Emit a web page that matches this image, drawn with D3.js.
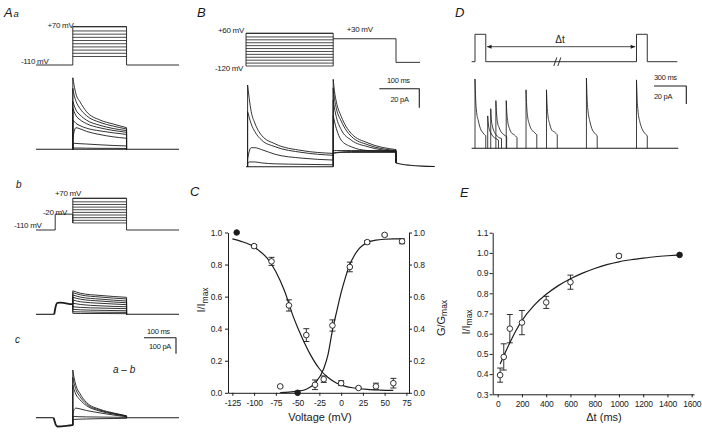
<!DOCTYPE html>
<html><head><meta charset="utf-8">
<script src="https://cdn.jsdelivr.net/npm/d3@7"></script>
<style>
body{margin:0;background:#fff}
svg{display:block}
text{font-family:"Liberation Sans",Arial,sans-serif;fill:#1a1a1a}
</style></head>
<body><svg width="702" height="435"></svg>
<script>
// ================= DATA =================
// ---- Panel A: protocols (mV) and times (ms) ----
const stepLevelsA = [-70,-55,-40,-25,-10,5,20,35,50,70];
const holdA = -110, prepulseAb = -20;
const A_PRE = 60, A_ON = 115, A_OFF = 283, A_END = 447;
// Aa currents (pA) at these times
const tAa = [115,119,125,137.5,158,200,241,283];
const curAa = [
  [447,400,345,297,235,183,158,135],
  [381,340,300,255,210,168,145,127],
  [300,275,245,215,182,150,130,117],
  [256,236,210,185,160,134,118,106],
  [183,175,162,148,132,115,103,93],
  [60,110,135,128,112,92,78,69],
  [30,37,37,35,33,28,24,21],
  [6,8,8,8,7,6,6,5]
];
// Ab: prepulse current (common) and step currents
const preAb = [[57,0],[60,35],[63,60],[67,72],[75,73],[90,70],[111,64],[115,64]];
const tAb = [115,140,200,283];
const curAb = [
  [147,131,118,106],[135,121,108,96],[121,107,95,83],[106,94,83,72],
  [89,78,69,60],[69,61,53,47],[47,43,39,35],[31,28,25,22],[16,15,13,12],[6,5,5,4]
];
// Ac: a - b difference
const dipAc = [[55,0],[58,-20],[62,-45],[67,-55],[80,-54],[100,-50],[113,-47],[115,-47]];
const tAc = [115,119,125,137.5,158,200,241,283];
const curAc = [
  [298,250,200,150,95,52,30,12],
  [253,215,175,132,85,47,27,10],
  [204,175,145,112,75,41,23,9],
  [20,50,60,55,45,30,17,6],
  [8,8,7,6,5,4,3,2],
  [-12,-11,-10,-9,-8,-6,-5,-4]
];

// ---- Panel B ----
const stepLevelsB = [-120,-104,-88,-72,-56,-40,-24,-8,8,24,40,60];
const B_PRE_END = 218, B_TEST = 30, B_TEST_END = 375, B_POST = -100, B_V_END = 435, B_END = 472;
const tBpre = [4,8,13,22,39,73,140,218];
const curBpre = [
  [86,72,58,46,33,24,17,14],
  [58,52,45,37,28,21,15,12],
  [8,16,20,20,18,13,9,7],
  [3,5,5,5,4,3,2.5,2],
  null, null, null
];
const tBtest = [218,221,226,238,263,305,375];
const curBtest = [
  [15,15,15,15.5,16,16,16],
  [14,14,14.5,15,15,15,15],
  [17,17,17,17,17,17,17],
  [54,48,40,28,21,17,16],
  [70,62,52,39,28,21,16],
  [83,72,61,48,32,23,17],
  [92,80,68,53,35,25,18]
];
const tailB = [[375,4],[378,3.6],[390,2.5],[410,1.5],[440,0.6],[472,0.2]];

// ---- Panel D ----
const D_START = -31, D_END = 1888, D_V_END = 1879;
const pulsesD = [0, 1500], pulseDur = 100, holdD = -110, testD = 30;
const onsetsD = [0,118,146,194,290,474,664,1035,1500];
const offsD = [0,6,15,30,50,75,100];
const curD = [
  [77,55,40,31,22,17,14],
  [36,27,21,17,13,11,9],
  [44,32,25,19,15,12,11],
  [53,39,29,23,18,15,13],
  [53,39,29,22,17,15,12],
  [65,47,35,27,21,18,15],
  [65,47,35,27,20,18,15],
  [78,56,41,31,22,17,14],
  [76,55,40,30,22,17,14]
];

// ---- Panel C ----
const inactV = [-120,-100,-80,-60,-40,-20,0,20,40,60];
const inactY = [1.0,0.915,0.82,0.545,0.36,0.085,0.06,0.03,0.04,0.06];
const inactE = [0,0.01,0.025,0.035,0.04,0.02,0.015,0.005,0.02,0.03];
const inactFilled = [true,false,false,false,false,false,false,false,false,false];
const actV = [-70,-50,-30,-10,10,30,50,70];
const actY = [0.04,0.0,0.05,0.42,0.785,0.94,0.985,0.945];
const actE = [0.006,0,0.03,0.035,0.03,0.01,0.006,0.015];
const actFilled = [false,true,false,false,false,false,false,false];
const inactFitV = [-125,-115,-105,-95,-85,-75,-65,-55,-45,-35,-25,-15,-5,5,15,30,45,60];
const inactFitY = [0.96,0.945,0.925,0.89,0.84,0.755,0.635,0.475,0.345,0.235,0.15,0.095,0.06,0.04,0.03,0.021,0.017,0.015];
const actFitV = [-70,-60,-50,-40,-30,-20,-15,-10,-5,0,5,10,15,20,25,30,40,50,60,72];
const actFitY = [0.002,0.004,0.01,0.022,0.06,0.15,0.24,0.39,0.51,0.625,0.72,0.80,0.855,0.895,0.92,0.937,0.952,0.958,0.96,0.96];
const cXTicks = [-125,-100,-75,-50,-25,0,25,50,75];
const cYTicks = [0,0.2,0.4,0.6,0.8,1.0];

// ---- Panel E ----
const recT = [20,50,100,200,400,600,1000,1500];
const recY = [0.395,0.485,0.625,0.655,0.755,0.855,0.985,0.99];
const recE = [0.035,0.065,0.07,0.06,0.03,0.035,0.008,0];
const recFilled = [false,false,false,false,false,false,false,true];
const recFitT = [20,50,100,150,200,300,400,500,600,700,800,900,1000,1100,1200,1300,1400,1500];
const recFitY = [0.45,0.49,0.555,0.615,0.665,0.74,0.795,0.838,0.872,0.9,0.923,0.942,0.956,0.966,0.974,0.981,0.986,0.99];
const eXTicks = [0,200,400,600,800,1000,1200,1400,1600];
const eYTicks = [0.3,0.4,0.5,0.6,0.7,0.8,0.9,1.0,1.1];

// ================= DRAWING =================
const ink = "#1c1c1c";
const svg = d3.select("svg");
const lineLin = (x,y) => d3.line().x(d=>x(d[0])).y(d=>y(d[1]));
function tracePath(x, y, pts, b0, b1) {
  const p = d3.line().x(d=>x(d[0])).y(d=>y(d[1])).curve(d3.curveMonotoneX)(pts);
  let s = p;
  if (b0 !== null && b0 !== undefined) s = "M" + x(pts[0][0]) + "," + y(b0) + "L" + p.slice(1);
  if (b1 !== null && b1 !== undefined) s += "L" + x(pts[pts.length-1][0]) + "," + y(b1);
  return s;
}
function path(g, d, w) {
  return g.append("path").attr("d", d).attr("fill","none").attr("stroke",ink)
    .attr("stroke-width", w||0.9).attr("stroke-linejoin","round");
}
function txt(x, y, s, size, opt) {
  opt = opt || {};
  const t = svg.append("text").attr("x",x).attr("y",y).attr("font-size",size).text(s);
  if (opt.italic) t.attr("font-style","italic");
  if (opt.anchor) t.attr("text-anchor",opt.anchor);
  if (opt.ls) t.attr("letter-spacing",opt.ls);
  return t;
}
const zip = (ts, vs) => ts.map((t,i)=>[t,vs[i]]);

// ---------- Panel A ----------
const gA = svg.append("g");
const xA = d3.scaleLinear().domain([0,100]).range([36,68]);
const vAa = d3.scaleLinear().domain([-110,70]).range([65,26.7]);
const vAb = d3.scaleLinear().domain([-110,70]).range([230,198.3]);
const iAa = d3.scaleLinear().domain([0,100]).range([149.3,133.3]);
const iAb = d3.scaleLinear().domain([0,100]).range([314.3,298.3]);
const iAc = d3.scaleLinear().domain([0,100]).range([417.7,401.7]);
const vmax = d3.max(stepLevelsA), vmin = d3.min(stepLevelsA);

// Aa voltage
path(gA, lineLin(xA,vAa)([[0,holdA],[A_ON,holdA],[A_ON,vmax],[A_OFF,vmax],[A_OFF,holdA],[A_END,holdA]]));
stepLevelsA.forEach(v => path(gA, lineLin(xA,vAa)([[A_ON,v],[A_OFF,v]]), 0.8));
// Aa currents
path(gA, lineLin(xA,iAa)([[0,0],[A_END,0]]), 1.1);
curAa.forEach(c => path(gA, tracePath(xA,iAa,zip(tAa,c),0,0)));

// Ab voltage
path(gA, lineLin(xA,vAb)([[0,holdA],[A_PRE,holdA],[A_PRE,prepulseAb],[A_ON,prepulseAb],[A_ON,vmin],[A_ON,vmax],[A_OFF,vmax],[A_OFF,holdA],[A_END,holdA]]));
stepLevelsA.forEach(v => path(gA, lineLin(xA,vAb)([[A_ON,v],[A_OFF,v]]), 0.8));
// Ab currents
path(gA, lineLin(xA,iAb)([[0,0],[57,0]]), 1.1);
path(gA, lineLin(xA,iAb)([[A_OFF,0],[A_END,0]]), 1.1);
path(gA, d3.line().x(d=>xA(d[0])).y(d=>iAb(d[1])).curve(d3.curveMonotoneX)(preAb), 1.8);
curAb.forEach(c => path(gA, tracePath(xA,iAb,zip(tAb,c),preAb[preAb.length-1][1],0)));

// Ac currents
path(gA, lineLin(xA,iAc)([[0,0],[55,0]]), 1.1);
path(gA, lineLin(xA,iAc)([[A_OFF,0],[A_END,0]]), 1.1);
path(gA, d3.line().x(d=>xA(d[0])).y(d=>iAc(d[1])).curve(d3.curveMonotoneX)(dipAc), 1.8);
curAc.forEach(c => path(gA, tracePath(xA,iAc,zip(tAc,c),dipAc[dipAc.length-1][1],0)));

// A scale bar (100 ms, 100 pA)
path(gA, `M${144},${337.7}H${144 + xA(100)-xA(0)}V${337.7 + iAa(0)-iAa(100)}`, 1.1);

// A labels
txt(4,17,"A",13,{italic:true}); txt(13.5,17,"a",9.5,{italic:true});
txt(47.5,27.5,"+70 mV",8,{ls:-0.3});
txt(48.5,63.5,"-110 mV",8,{anchor:"end",ls:-0.3});
txt(16,188,"b",10,{italic:true});
txt(55,195.5,"+70 mV",8,{ls:-0.3});
txt(43,215,"-20 mV",8,{ls:-0.3});
txt(14,227.5,"-110 mV",8,{ls:-0.3});
txt(147,333.5,"100 ms",7.5,{ls:-0.3});
txt(149,348.5,"100 pA",7.5,{ls:-0.3});
txt(15,343,"c",10,{italic:true});
txt(113,373,"a – b",10,{italic:true});

// ---------- Panel B ----------
const gB = svg.append("g");
const xB = d3.scaleLinear().domain([0,100]).range([246,286]);
const vB = d3.scaleLinear().domain([-120,60]).range([66,33.3]);
const iB = d3.scaleLinear().domain([0,20]).range([166.7,147.7]);
const bmin = d3.min(stepLevelsB), bmax = d3.max(stepLevelsB);
path(gB, lineLin(xB,vB)([[0,bmin],[0,bmax],[B_PRE_END,bmax],[B_PRE_END,bmin]]));
stepLevelsB.forEach(v => path(gB, lineLin(xB,vB)([[0,v],[B_PRE_END,v]]), 0.8));
path(gB, lineLin(xB,vB)([[B_PRE_END,B_TEST],[B_TEST_END,B_TEST],[B_TEST_END,B_POST],[B_V_END,B_POST]]));
// currents
path(gB, lineLin(xB,iB)([[0,0],[B_PRE_END,0]]), 1.1);
curBpre.forEach((c,k) => {
  let last = 0;
  if (c) { path(gB, tracePath(xB,iB,zip(tBpre,c),0,null)); last = c[c.length-1]; }
  path(gB, tracePath(xB,iB,zip(tBtest,curBtest[k]),last,tailB[0][1]));
});
path(gB, d3.line().x(d=>xB(d[0])).y(d=>iB(d[1])).curve(d3.curveMonotoneX)(tailB), 1.1);
// scale bar B
path(gB, `M379.3,88.8H${379.3 + xB(100)-xB(0)}V${88.8 + iB(0)-iB(20)}`, 1.1);
txt(197,17,"B",13,{italic:true});
txt(218,33,"+60 mV",8,{ls:-0.3});
txt(215,71,"-120 mV",8,{ls:-0.3});
txt(346.7,32,"+30 mV",8,{ls:-0.3});
txt(387,83,"100 ms",7.5,{ls:-0.3});
txt(390.5,101.5,"20 pA",7.5,{ls:-0.3});

// ---------- Panel D ----------
const gD = svg.append("g");
const xD = d3.scaleLinear().domain([0,300]).range([475,507.3]);
const vD = d3.scaleLinear().domain([-110,30]).range([61.7,34.3]);
const iD = d3.scaleLinear().domain([0,20]).range([148.3,130.3]);
const vpts = [[D_START,holdD]];
pulsesD.forEach(p => { vpts.push([p,holdD],[p,testD],[p+pulseDur,testD],[p+pulseDur,holdD]); });
vpts.push([D_V_END,holdD]);
path(gD, lineLin(xD,vD)(vpts));
// break marks
const brX = xD(760);
path(gD, `M${brX-3},66L${brX},57.5M${brX+1},66L${brX+4},57.5`, 0.9);
// Δt arrow
const ax0 = xD(pulsesD[0]+pulseDur+12), ax1 = xD(pulsesD[1]-12), ay = 46.7;
path(gD, `M${ax0},${ay}H${ax1}`, 0.8);
gD.append("path").attr("d",`M${ax0},${ay}l4.5,-2l0,4z M${ax1},${ay}l-4.5,-2l0,4z`).attr("fill",ink);
txt(560,42.5,"Δt",10,{anchor:"middle"});
// currents
path(gD, lineLin(xD,iD)([[D_START,0],[D_END,0]]), 1.1);
onsetsD.forEach((t0,k) => {
  path(gD, tracePath(xD,iD,offsD.map((o,j)=>[t0+o,curD[k][j]]),0,0), 0.85);
});
path(gD, `M654,86H${654 + xD(300)-xD(0)}V${86 + iD(0)-iD(20)}`, 1.1);
txt(455,17,"D",13,{italic:true});
txt(654,80,"300 ms",7.5,{ls:-0.3});
txt(654,99,"20 pA",7.5,{ls:-0.3});

// ---------- Panel C ----------
const gC = svg.append("g");
const xC = d3.scaleLinear().domain([-130,78]).range([228,409]);
const yC = d3.scaleLinear().domain([0,1]).range([392.8,232.5]);
function styleAxis(g){
  g.selectAll("path.domain").attr("stroke",ink).attr("stroke-width",1);
  g.selectAll(".tick line").attr("stroke",ink).attr("stroke-width",1);
  g.selectAll(".tick text").attr("fill","#1a1a1a").attr("font-size",8.5)
    .attr("font-family",'"Liberation Sans",Arial,sans-serif').attr("letter-spacing",-0.2);
}
gC.append("g").attr("transform","translate(0,392.8)")
  .call(d3.axisBottom(xC).tickValues(cXTicks).tickFormat(d=>String(d)).tickSize(3).tickSizeOuter(0).tickPadding(4.5)).call(styleAxis);
gC.append("g").attr("transform","translate(228,0)")
  .call(d3.axisLeft(yC).tickValues(cYTicks).tickFormat(d3.format(".1f")).tickSize(3).tickSizeOuter(0).tickPadding(3)).call(styleAxis);
gC.append("g").attr("transform","translate(409,0)")
  .call(d3.axisRight(yC).tickValues(cYTicks).tickFormat(d3.format(".1f")).tickSize(3).tickSizeOuter(0).tickPadding(1.5)).call(styleAxis);
path(gC, d3.line().x(d=>xC(d[0])).y(d=>yC(d[1])).curve(d3.curveMonotoneX)(zip(inactFitV,inactFitY)), 1.2);
path(gC, d3.line().x(d=>xC(d[0])).y(d=>yC(d[1])).curve(d3.curveMonotoneX)(zip(actFitV,actFitY)), 1.2);
function points(g, x, y, xs, ys, es, filled) {
  xs.forEach((v,i) => {
    const cx = x(v), cy = y(ys[i]);
    if (es[i] > 0) {
      const y0 = y(ys[i]-es[i]), y1 = y(ys[i]+es[i]);
      path(g, `M${cx},${y0}V${y1}M${cx-3},${y0}H${cx+3}M${cx-3},${y1}H${cx+3}`, 0.9);
    }
    g.append("circle").attr("cx",cx).attr("cy",cy).attr("r",2.8)
      .attr("fill", filled[i] ? ink : "#fff").attr("stroke",ink).attr("stroke-width",0.9);
  });
}
points(gC, xC, yC, inactV, inactY, inactE, inactFilled);
points(gC, xC, yC, actV, actY, actE, actFilled);
txt(190,195.5,"C",13,{italic:true});
txt(320,421,"Voltage (mV)",11,{anchor:"middle"});
const tl = svg.append("text").attr("transform","translate(205,300) rotate(-90)").attr("text-anchor","middle").attr("font-size",11);
tl.append("tspan").text("I/I"); tl.append("tspan").attr("font-size",8.5).attr("dy",2.5).text("max");
const tr = svg.append("text").attr("transform","translate(444.5,318) rotate(-90)").attr("text-anchor","middle").attr("font-size",11);
tr.append("tspan").text("G/G"); tr.append("tspan").attr("font-size",8.5).attr("dy",2.5).text("max");

// ---------- Panel E ----------
const gE = svg.append("g");
const xE = d3.scaleLinear().domain([0,1600]).range([497.7,691.7]);
const yE = d3.scaleLinear().domain([0.3,1.1]).range([394.3,232.7]);
const xE2 = xE.copy().domain([xE.invert(492.7), xE.invert(694)]).range([492.7,694]);
gE.append("g").attr("transform","translate(0,394.3)")
  .call(d3.axisBottom(xE2).tickValues(eXTicks).tickFormat(d=>String(d)).tickSize(3).tickSizeOuter(0).tickPadding(3.2)).call(styleAxis);
gE.append("g").attr("transform","translate(492.7,0)")
  .call(d3.axisLeft(yE).tickValues(eYTicks).tickFormat(d3.format(".1f")).tickSize(3).tickSizeOuter(0).tickPadding(1.5)).call(styleAxis);
path(gE, d3.line().x(d=>xE(d[0])).y(d=>yE(d[1])).curve(d3.curveMonotoneX)(zip(recFitT,recFitY)), 1.2);
points(gE, xE, yE, recT, recY, recE, recFilled);
txt(460,197,"E",13,{italic:true});
txt(604,421,"Δt  (ms)",11,{anchor:"middle"});
const te = svg.append("text").attr("transform","translate(469.5,322) rotate(-90)").attr("text-anchor","middle").attr("font-size",11);
te.append("tspan").text("I/I"); te.append("tspan").attr("font-size",8.5).attr("dy",2.5).text("max");
</script>
</body></html>
